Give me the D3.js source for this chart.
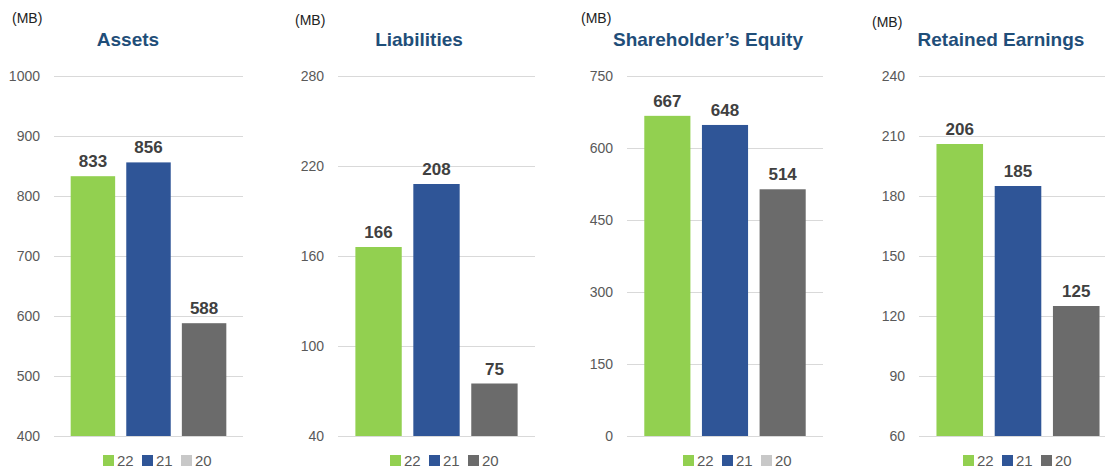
<!DOCTYPE html>
<html>
<head>
<meta charset="utf-8">
<script src="https://cdn.jsdelivr.net/npm/d3@7"></script>
<style>
  body { margin: 0; background: #fff; }
  svg { display: block; }
</style>
</head>
<body>
<div id="chart"></div>
<script>
var width = 1105;
var height = 469;

// data
var years = ['22', '21', '20'];
var titles = ['Assets', 'Liabilities', 'Shareholder\u2019s Equity', 'Retained Earnings'];
var assets = [833, 856, 588];
var liabilities = [166, 208, 75];
var equity = [667, 648, 514];
var retained = [206, 185, 125];
var assetTicks = [400, 500, 600, 700, 800, 900, 1000];
var liabTicks = [40, 100, 160, 220, 280];
var equityTicks = [0, 150, 300, 450, 600, 750];
var retainedTicks = [60, 90, 120, 150, 180, 210, 240];

var barColors = ['#92d050', '#2f5597', '#6b6b6b'];

// panel layout (grid left/right, title centre, unit label pos, legend x, 20's legend swatch colour)
var panels = [
  { title: titles[0], values: assets, ticks: assetTicks, x0: 54, x1: 243, tx: 128, mx: 12, my: 23, lx: 103, c20: '#c8c8c8' },
  { title: titles[1], values: liabilities, ticks: liabTicks, x0: 338, x1: 535, tx: 419, mx: 295, my: 25, lx: 390, c20: '#6b6b6b' },
  { title: titles[2], values: equity, ticks: equityTicks, x0: 627, x1: 823, tx: 708, mx: 581, my: 23, lx: 683, c20: '#c8c8c8' },
  { title: titles[3], values: retained, ticks: retainedTicks, x0: 919, x1: 1117, tx: 1001, mx: 872, my: 27, lx: 963, c20: '#6b6b6b' }
];

var yTop = 76;
var yBottom = 436;

var svg = d3.select('#chart')
  .append('svg')
  .attr('width', width)
  .attr('height', height)

panels.forEach(function (p) {
  var g = svg.append('g')

  var y = d3.scaleLinear()
    .domain([p.ticks[0], p.ticks[p.ticks.length - 1]])
    .range([yBottom, yTop])

  var x = d3.scaleBand()
    .domain(years)
    .range([p.x0, p.x1])
    .paddingInner(0.2)
    .paddingOuter(0.3)

  // gridlines
  g.selectAll('line.grid')
    .data(p.ticks)
    .enter()
    .append('line')
    .attr('x1', p.x0)
    .attr('x2', p.x1)
    .attr('y1', d => Math.round(y(d)) + 0.5)
    .attr('y2', d => Math.round(y(d)) + 0.5)
    .style('stroke', '#d9d9d9')
    .style('stroke-width', 1)

  // y tick labels
  g.selectAll('text.tick')
    .data(p.ticks)
    .enter()
    .append('text')
    .attr('x', p.x0 - 14)
    .attr('y', d => y(d))
    .attr('dy', '0.35em')
    .attr('text-anchor', 'end')
    .style('font-family', 'Liberation Sans, Arial, sans-serif')
    .style('font-size', '14px')
    .style('fill', '#595959')
    .text(d => d)

  // bars
  g.selectAll('rect.bar')
    .data(p.values)
    .enter()
    .append('rect')
    .attr('x', (d, i) => x(years[i]))
    .attr('y', d => y(d))
    .attr('width', x.bandwidth())
    .attr('height', d => yBottom - y(d))
    .style('fill', (d, i) => barColors[i])

  // value labels
  g.selectAll('text.val')
    .data(p.values)
    .enter()
    .append('text')
    .attr('x', (d, i) => x(years[i]) + x.bandwidth() / 2)
    .attr('y', d => y(d) - 9)
    .attr('text-anchor', 'middle')
    .style('font-family', 'Liberation Sans, Arial, sans-serif')
    .style('font-weight', 'bold')
    .style('font-size', '17px')
    .style('fill', '#404040')
    .text(d => d)

  // title
  g.append('text')
    .attr('x', p.tx)
    .attr('y', 46)
    .attr('text-anchor', 'middle')
    .style('font-family', 'Liberation Sans, Arial, sans-serif')
    .style('font-weight', 'bold')
    .style('font-size', '19px')
    .style('fill', '#1f4e79')
    .text(p.title)

  // unit
  g.append('text')
    .attr('x', p.mx)
    .attr('y', p.my)
    .style('font-family', 'Liberation Sans, Arial, sans-serif')
    .style('font-size', '14px')
    .style('fill', '#222')
    .text('(MB)')

  // legend
  var legendColors = [barColors[0], barColors[1], p.c20];
  var lg = g.selectAll('g.legend')
    .data(years)
    .enter()
    .append('g')
    .attr('transform', (d, i) => 'translate(' + (p.lx + i * 39) + ',455)')

  lg.append('rect')
    .attr('width', 11)
    .attr('height', 11)
    .style('fill', (d, i) => legendColors[i])

  lg.append('text')
    .attr('x', 14)
    .attr('y', 11)
    .style('font-family', 'Liberation Sans, Arial, sans-serif')
    .style('font-size', '15px')
    .style('fill', '#595959')
    .text(d => d)
})
</script>
</body>
</html>
